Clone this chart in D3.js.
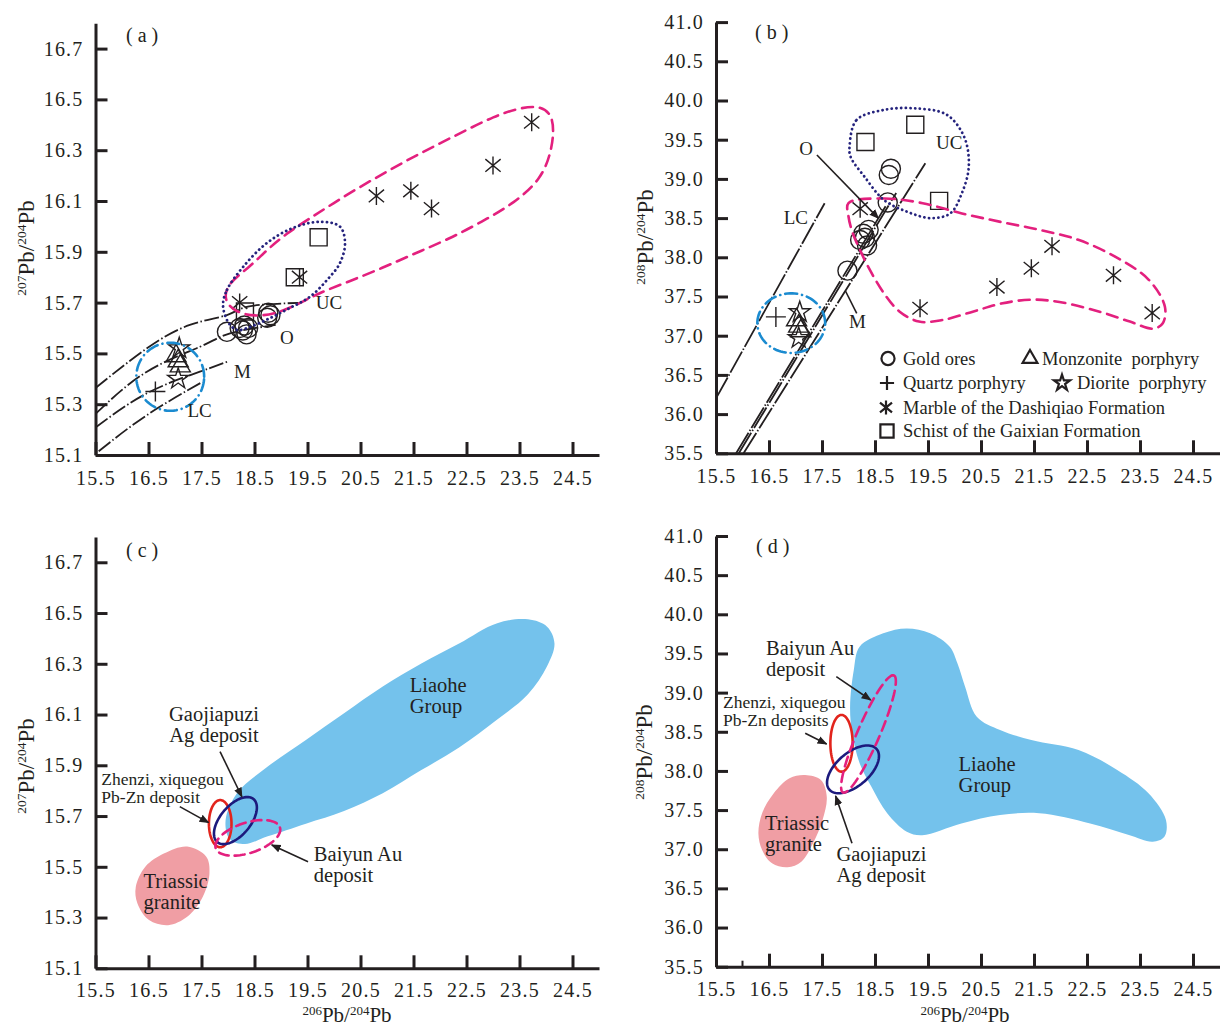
<!DOCTYPE html>
<html>
<head>
<meta charset="utf-8">
<script src="https://cdn.jsdelivr.net/npm/d3@7"></script>
<style>
body{margin:0;background:#fff;}
svg text{font-family:"Liberation Serif","Times New Roman",serif;fill:#231f20;}
</style>
</head>
<body>
<svg id="chart" width="1222" height="1027"></svg>
<script>
// axis ticks
var xTicks = [15.5,16.5,17.5,18.5,19.5,20.5,21.5,22.5,23.5,24.5];
var y207Ticks = [15.1,15.3,15.5,15.7,15.9,16.1,16.3,16.5,16.7];
var y208Ticks = [35.5,36.0,36.5,37.0,37.5,38.0,38.5,39.0,39.5,40.0,40.5,41.0];

// samples (206Pb/204Pb, 207Pb/204Pb, 208Pb/204Pb)
var goldX   = [17.98,18.22,18.28,18.31,18.35,18.38,18.74,18.76,18.80];
var gold207 = [15.585,15.60,15.59,15.61,15.575,15.60,15.64,15.66,15.65];
var gold208 = [37.83,38.22,38.30,38.25,38.15,38.35,38.70,39.05,39.13];
var quartzX = [16.63], quartz207 = [15.35], quartz208 = [37.24];
var monzX = [17.02,17.06,17.10], monz207 = [15.49,15.47,15.45], monz208 = [37.20,37.12,37.06];
var diorX = [17.08,17.06], dior207 = [15.52,15.40], dior208 = [37.30,36.97];
var marbleX   = [18.22,19.35,20.80,21.45,21.84,23.00,23.73];
var marble207 = [15.70,15.80,16.12,16.14,16.07,16.24,16.41];
var marble208 = [38.62,37.35,37.62,37.86,38.14,37.77,37.29];
var schistX   = [18.32,19.26,19.71];
var schist207 = [15.665,15.80,15.957];
var schist208 = [39.47,39.69,38.72];

// plumbotectonic curves
var ucA = [[15.5,15.364],[16.47,15.52],[17.28,15.612],[17.98,15.651],[18.4,15.685],[19.33,15.699]];
var oA  = [[15.5,15.262],[16.47,15.428],[17.47,15.526],[18.04,15.579],[18.9,15.612]];
var mA  = [[15.5,15.208],[16.47,15.343],[17.47,15.428],[18.02,15.47]];
var lcA = [[15.56,15.115],[16.47,15.257],[17.52,15.388]];
var ucB = [[16.02,35.5],[19.45,39.2]];
var oB  = [[15.93,35.5],[18.9,38.82]];
var mB  = [[15.88,35.5],[18.7,38.65]];
var lcB = [[15.5,36.2],[17.55,38.69]];

// fields: ellipses as [cx, cy, axis1 end x, y, axis2 end x, y]
var porphFieldA  = [16.91,15.408, 17.55,15.408, 16.91,15.542];
var porphFieldB  = [16.92,37.16, 17.56,37.16, 16.92,37.54];
var zhenziC   = [17.853,15.670, 18.066,15.670, 17.853,15.763];
var gaojiaC   = [18.14,15.682, 18.48,15.767, 18.36,15.645];
var baiyunC   = [18.374,15.614, 18.98,15.655, 18.46,15.557];
var zhenziD   = [17.868,38.353, 18.078,38.353, 17.868,38.715];
var gaojiaD   = [18.085,38.02, 18.53,38.28, 18.29,37.86];
var baiyunD   = [18.377,38.472, 18.857,39.22, 18.568,38.416];

// fields: outlines
var marbleFieldA = [[17.911,15.710],[18.0,15.777],[18.415,15.841],[18.730,15.907],[19.108,15.973],[19.547,16.032],[19.987,16.091],[20.491,16.156],[20.994,16.215],[21.496,16.274],[22.0,16.327],[22.504,16.380],[23.006,16.432],[23.509,16.468],[23.887,16.474],[24.10,16.443],[24.15,16.380],[24.10,16.295],[23.919,16.189],[23.415,16.093],[22.787,16.018],[22.157,15.949],[21.528,15.894],[20.90,15.835],[20.27,15.782],[19.704,15.737],[19.358,15.697],[18.919,15.657],[18.542,15.645],[18.15,15.660]];
var schistFieldA = [[17.906,15.691],[17.981,15.750],[18.283,15.840],[18.736,15.935],[19.226,15.994],[19.736,16.018],[20.113,15.999],[20.208,15.935],[20.113,15.856],[19.868,15.789],[19.547,15.723],[19.17,15.679],[18.792,15.639],[18.415,15.604],[18.17,15.592],[18.0,15.624]];
var schistFieldB = [[18.02,39.41],[18.15,39.75],[18.67,39.88],[19.25,39.90],[19.85,39.82],[20.18,39.54],[20.27,39.16],[20.14,38.82],[19.92,38.56],[19.55,38.50],[19.11,38.58],[18.67,38.73],[18.30,39.03],[18.04,39.28]];
var marbleFieldB = [[18.00,38.69],[18.67,38.75],[19.40,38.69],[20.14,38.56],[20.88,38.45],[21.61,38.35],[22.35,38.22],[23.08,37.99],[23.67,37.71],[23.97,37.37],[23.93,37.16],[23.75,37.09],[23.31,37.18],[22.72,37.31],[21.98,37.43],[21.46,37.46],[20.88,37.41],[20.36,37.31],[19.77,37.20],[19.33,37.18],[18.96,37.31],[18.67,37.54],[18.37,37.88],[18.22,38.09],[18.08,38.31],[18.00,38.52]];
var liaoheC = [[17.955,15.684],[18.17,15.79],[18.75,15.895],[19.47,16.00],[20.19,16.105],[20.92,16.21],[21.64,16.30],[22.36,16.38],[23.08,16.46],[23.66,16.475],[24.02,16.446],[24.16,16.38],[24.02,16.29],[23.66,16.18],[23.08,16.08],[22.36,15.97],[21.64,15.88],[20.92,15.79],[20.19,15.72],[19.47,15.67],[18.75,15.62],[18.32,15.59],[18.03,15.61]];
var triassicC = [[17.23,15.58],[17.59,15.54],[17.65,15.474],[17.52,15.38],[17.23,15.303],[16.87,15.27],[16.51,15.29],[16.29,15.356],[16.26,15.42],[16.44,15.50],[16.80,15.553]];
var liaoheD = [[18.21,39.587],[18.655,39.758],[19.10,39.82],[19.54,39.758],[19.91,39.587],[20.055,39.375],[20.20,39.076],[20.42,38.693],[20.86,38.523],[21.45,38.395],[22.34,38.268],[23.07,38.012],[23.66,37.715],[23.99,37.374],[23.96,37.16],[23.74,37.096],[23.29,37.182],[22.56,37.33],[21.60,37.46],[20.86,37.437],[20.13,37.33],[19.39,37.18],[19.10,37.224],[18.73,37.46],[18.43,37.80],[18.21,38.098],[18.07,38.48],[18.03,38.82],[18.10,39.29]];
var triassicD = [[17.18,37.948],[17.48,37.884],[17.59,37.671],[17.51,37.374],[17.33,37.076],[17.11,36.841],[16.85,36.77],[16.557,36.82],[16.37,36.99],[16.30,37.20],[16.37,37.46],[16.59,37.715],[16.887,37.906]];

var ink = '#231f20', pink = '#e3207e', navy = '#25237d', sky = '#1b8bd0';
var svg = d3.select('#chart');

var defs = svg.append('defs');
defs.append('marker').attr('id','arr').attr('viewBox','0 0 10 10')
	.attr('refX',9).attr('refY',5).attr('markerWidth',10).attr('markerHeight',10)
	.attr('markerUnits','userSpaceOnUse').attr('orient','auto')
	.append('path').attr('d','M0,1L10,5L0,9z').attr('fill',ink);

// custom stroke symbols
var asterisk = {draw: function(ctx, size){
	var r = Math.sqrt(size)/2;
	ctx.moveTo(0,-r); ctx.lineTo(0,r);
	ctx.moveTo(-r*0.85,-r*0.7); ctx.lineTo(r*0.85,r*0.7);
	ctx.moveTo(-r*0.85,r*0.7); ctx.lineTo(r*0.85,-r*0.7);
}};
var plus = {draw: function(ctx, size){
	var r = Math.sqrt(size)/2;
	ctx.moveTo(-r,0); ctx.lineTo(r,0);
	ctx.moveTo(0,-r); ctx.lineTo(0,r);
}};

var groups = [
	{x: goldX,   a: gold207,   b: gold208,   type: d3.symbolCircle,   size: 285, lsize: 135},
	{x: schistX, a: schist207, b: schist208, type: d3.symbolSquare,   size: 290, lsize: 175},
	{x: marbleX, a: marble207, b: marble208, type: asterisk,          size: 324, lsize: 200},
	{x: quartzX, a: quartz207, b: quartz208, type: plus,              size: 400, lsize: 200},
	{x: monzX,   a: monz207,   b: monz208,   type: d3.symbolTriangle, size: 175, lsize: 95},
	{x: diorX,   a: dior207,   b: dior208,   type: d3.symbolStar,     size: 136, lsize: 80}
];

function makePanel(p){
	var x = d3.scaleLinear().domain([15.5,25]).range(p.xr);
	var y = d3.scaleLinear().domain(p.yDom).range(p.yr);
	var g = svg.append('g');
	var ax = g.append('g').attr('transform','translate(0,'+p.yr[0]+')')
		.call(d3.axisBottom(x).tickValues(xTicks).tickFormat(d3.format('.1f'))
			.tickSize(-13).tickSizeOuter(0).tickPadding(p.xt ? 15 : 16));
	var ay = g.append('g').attr('transform','translate('+p.xr[0]+',0)')
		.call(d3.axisLeft(y).tickValues(p.yTicks).tickFormat(d3.format('.1f'))
			.tickSize(-12).tickSizeOuter(0).tickPadding(12));
	[ax, ay].forEach(function(a){
		a.select('.domain').attr('stroke',ink).attr('stroke-width',3);
		a.selectAll('.tick line').attr('stroke',ink).attr('stroke-width',3);
		a.selectAll('.tick text').attr('font-size',20).attr('letter-spacing',1.2)
			.attr('fill',ink).attr('font-family','Liberation Serif, serif');
	});
	if (p.minor) {
		g.selectAll('.minor').data(p.minor).enter().append('line')
			.attr('x1',function(d){return x(d);}).attr('x2',function(d){return x(d);})
			.attr('y1',p.yr[0]).attr('y2',p.yr[0]-6).attr('stroke',ink).attr('stroke-width',2);
	}
	// y title
	var yt = g.append('text').attr('text-anchor','middle')
		.attr('transform','translate('+p.ytx+','+p.yty+') rotate(-90)');
	isoTitle(yt, p.iso, 23, 13.5, 8);
	if (p.xt) {
		var xt = g.append('text').attr('text-anchor','middle')
			.attr('x', p.xt[0]).attr('y', p.xt[1]);
		isoTitle(xt, '206', 21, 13, 7);
	}
	g.append('text').attr('x',p.lab[0]).attr('y',p.lab[1]).attr('font-size',20)
		.style('white-space','pre').text('( '+p.id+' )');
	return {g:g, x:x, y:y};
}

function isoTitle(t, top, big, small, rise){
	t.append('tspan').attr('font-size',small).attr('dy',-rise).text(top);
	t.append('tspan').attr('font-size',big).attr('dy',rise).text('Pb/');
	t.append('tspan').attr('font-size',small).attr('dy',-rise).text('204');
	t.append('tspan').attr('font-size',big).attr('dy',rise).text('Pb');
}

function ellipsePts(e){
	return d3.range(90).map(function(i){
		var t = 2*Math.PI*i/90;
		return [e[0] + Math.cos(t)*(e[2]-e[0]) + Math.sin(t)*(e[4]-e[0]),
		        e[1] + Math.cos(t)*(e[3]-e[1]) + Math.sin(t)*(e[5]-e[1])];
	});
}

function shape(P, pts, curve){
	return d3.line().x(function(d){return P.x(d[0]);}).y(function(d){return P.y(d[1]);})
		.curve(curve)(pts);
}

function field(P, pts, curve, fill, stroke, width, dash){
	P.g.append('path').attr('d', shape(P, pts, curve))
		.attr('fill', fill || 'none').attr('stroke', stroke || 'none')
		.attr('stroke-width', width || 0).attr('stroke-dasharray', dash || null)
		.attr('stroke-linecap','round');
}

function curveLine(P, pts, curve, dash){
	P.g.append('path').attr('d', shape(P, pts, curve))
		.attr('fill','none').attr('stroke',ink).attr('stroke-width',1.8)
		.attr('stroke-dasharray', dash);
}

function label(P, txt, x, y, size, anchor, lh){
	var t = P.g.append('text').attr('x',P.x(x)).attr('y',P.y(y))
		.attr('font-size',size).attr('text-anchor',anchor || 'start');
	txt.split('\n').forEach(function(s, i){
		t.append('tspan').attr('x',P.x(x)).attr('dy', i ? lh : 0).text(s);
	});
}

function arrow(P, x1, y1, x2, y2){
	P.g.append('line').attr('x1',P.x(x1)).attr('y1',P.y(y1)).attr('x2',P.x(x2)).attr('y2',P.y(y2))
		.attr('stroke',ink).attr('stroke-width',1.6).attr('marker-end','url(#arr)');
}

function samples(P, key){
	groups.forEach(function(gr){
		P.g.selectAll(null).data(gr.x).enter().append('path')
			.attr('d', d3.symbol().type(gr.type).size(gr.size))
			.attr('transform', function(d,i){return 'translate('+P.x(d)+','+P.y(gr[key][i])+')';})
			.attr('fill','none').attr('stroke',ink).attr('stroke-width',1.4);
	});
}

var A = makePanel({id:'a', xr:[95.5,599], yDom:[15.1,16.8], yr:[455,23.2], yTicks:y207Ticks, iso:'207', ytx:34, yty:248, lab:[126,42]});
var B = makePanel({id:'b', xr:[716,1219.5], yDom:[35.5,41.0], yr:[453.3,22.1], yTicks:y208Ticks, iso:'208', ytx:653, yty:237, lab:[755,39]});
var C = makePanel({id:'c', xr:[95.5,599], yDom:[15.1,16.8], yr:[968.3,536.9], yTicks:y207Ticks, iso:'207', ytx:34, yty:766, lab:[126,557], xt:[347,1021.5]});
var D = makePanel({id:'d', xr:[716,1219.5], yDom:[35.5,41.0], yr:[966.7,536], yTicks:y208Ticks, iso:'208', ytx:652, yty:752, lab:[756,553], xt:[965,1021.5], minor:[16.0]});

// panel a
[ucA, oA, mA, lcA].forEach(function(c){ curveLine(A, c, d3.curveNatural, '15,2.5,1.5,2.5'); });
samples(A, 'a');
field(A, marbleFieldA, d3.curveBasisClosed, null, pink, 2.6, '11,7');
field(A, schistFieldA, d3.curveCatmullRomClosed, null, navy, 2.8, '0.1,4.6');
field(A, ellipsePts(porphFieldA), d3.curveLinearClosed, null, sky, 2.6, '12,5,0.1,5');
label(A, 'UC', 19.655, 15.673, 19);
label(A, 'O', 18.98, 15.537, 19);
label(A, 'M', 18.113, 15.405, 19);
label(A, 'LC', 17.236, 15.248, 19);

// panel b
[ucB, oB, mB, lcB].forEach(function(c){ curveLine(B, c, d3.curveLinear, '24,2,1.5,2'); });
samples(B, 'b');
field(B, marbleFieldB, d3.curveCatmullRomClosed, null, pink, 2.6, '11,7');
field(B, schistFieldB, d3.curveCatmullRomClosed, null, navy, 2.8, '0.1,4.6');
field(B, ellipsePts(porphFieldB), d3.curveLinearClosed, null, sky, 2.6, '12,5,0.1,5');
label(B, 'O', 17.07, 39.31, 19);
arrow(B, 17.404, 39.305, 18.566, 38.497);
label(B, 'UC', 19.65, 39.376, 19);
label(B, 'LC', 16.777, 38.42, 19);
label(B, 'M', 18.008, 37.10, 19);
B.g.append('line').attr('x1',B.x(18.155)).attr('y1',B.y(37.286)).attr('x2',B.x(17.943)).attr('y2',B.y(37.57))
	.attr('stroke',ink).attr('stroke-width',1.6);

// legend in panel b
var legendItems = [
	{label:'Gold ores', g:0, sx:888, tx:903, row:0},
	{label:'Monzonite  porphyry', g:4, sx:1030, tx:1042, row:0},
	{label:'Quartz porphyry', g:3, sx:887, tx:903, row:1},
	{label:'Diorite  porphyry', g:5, sx:1062, tx:1077, row:1},
	{label:'Marble of the Dashiqiao Formation', g:2, sx:886, tx:903, row:2},
	{label:'Schist of the Gaixian Formation', g:1, sx:887, tx:903, row:3}
];
var rowY = [358.5, 383, 407.5, 431];
var lg = svg.append('g');
legendItems.forEach(function(it){
	var gr = groups[it.g];
	lg.append('path').attr('d', d3.symbol().type(gr.type).size(gr.lsize))
		.attr('transform','translate('+it.sx+','+rowY[it.row]+')')
		.attr('fill','none').attr('stroke',ink).attr('stroke-width',2.2);
	lg.append('text').attr('x',it.tx).attr('y',rowY[it.row]+6).attr('font-size',18.5)
		.style('white-space','pre').text(it.label);
});

// panel c
field(C, liaoheC, d3.curveCatmullRomClosed, '#74c2ec');
field(C, triassicC, d3.curveCatmullRomClosed, '#f09ea4');
field(C, ellipsePts(zhenziC), d3.curveLinearClosed, null, '#e2241c', 2.6);
field(C, ellipsePts(gaojiaC), d3.curveLinearClosed, null, '#1c1a7d', 2.6);
field(C, ellipsePts(baiyunC), d3.curveLinearClosed, null, pink, 2.6, '10,6');
label(C, 'Liaohe\nGroup', 21.43, 16.19, 20.5, 'start', 21);
label(C, 'Gaojiapuzi\nAg deposit', 17.736, 16.075, 20.5, 'middle', 21);
arrow(C, 17.85, 15.954, 18.262, 15.776);
label(C, 'Zhenzi, xiquegou\nPb-Zn deposit', 15.61, 15.822, 17.5, 'start', 18);
arrow(C, 17.09, 15.737, 17.634, 15.674);
label(C, 'Baiyun Au\ndeposit', 19.62, 15.523, 20.5, 'start', 21);
arrow(C, 19.51, 15.52, 18.825, 15.586);
label(C, 'Triassic\ngranite', 16.406, 15.416, 20.5, 'start', 21);

// panel d
field(D, liaoheD, d3.curveCatmullRomClosed, '#74c2ec');
field(D, triassicD, d3.curveCatmullRomClosed, '#f09ea4');
field(D, ellipsePts(zhenziD), d3.curveLinearClosed, null, '#e2241c', 2.6);
field(D, ellipsePts(gaojiaD), d3.curveLinearClosed, null, '#1c1a7d', 2.6);
field(D, ellipsePts(baiyunD), d3.curveLinearClosed, null, pink, 2.6, '10,6');
label(D, 'Liaohe\nGroup', 20.077, 37.999, 20.5, 'start', 21);
label(D, 'Baiyun Au\ndeposit', 16.443, 39.481, 20.5, 'start', 21);
arrow(D, 17.77, 39.204, 18.419, 38.906);
label(D, 'Zhenzi, xiquegou\nPb-Zn deposits', 15.632, 38.804, 17.5, 'start', 18);
arrow(D, 17.183, 38.481, 17.587, 38.344);
label(D, 'Gaojiapuzi\nAg deposit', 17.772, 36.85, 20.5, 'start', 21);
arrow(D, 18.066, 37.076, 17.757, 37.68);
label(D, 'Triassic\ngranite', 16.425, 37.246, 20.5, 'start', 21);
</script>
</body>
</html>
